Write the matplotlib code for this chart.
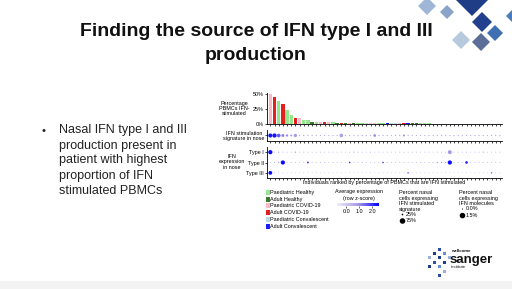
import numpy as np
import matplotlib
matplotlib.use('Agg')
import matplotlib.pyplot as plt
from matplotlib.colors import LinearSegmentedColormap, Normalize
from matplotlib.cm import ScalarMappable
from matplotlib.patches import Rectangle, Polygon

plt.rcParams['font.family'] = ['Liberation Sans', 'DejaVu Sans']

W, H = 512, 289

group_names = ['Paediatric Healthy', 'Adult Healthy', 'Paediatric COVID-19',
               'Adult COVID-19', 'Paediatric Convalescent', 'Adult Convalescent']
group_colors = ['#93e88c', '#3b7a2a', '#f7bac8', '#e3201c', '#b8dcea', '#1c1cff']

# cohort of each individual, ranked by % IFN-stimulated PBMCs
groups = [2, 3, 0, 3, 0, 0, 3, 2, 0, 0,
          1, 0, 2, 3, 2, 0, 1, 3, 1, 2,
          1, 0, 0, 4, 2, 2, 0, 0, 5, 4,
          4, 2, 3, 5, 1, 1, 0, 0, 0, 2,
          2, 3, 0, 0, 4, 1, 2, 0, 4, 5,
          2, 0, 1, 4, 2, 0]
pct_ifn = [50, 45, 39, 33.5, 23.5, 15, 9.5, 9.4, 6, 5.9,
           4, 3.5, 3.2, 3.2, 2.8, 2.8, 2.5, 2.5, 2.3, 2.2,
           2.0, 2.0, 1.9, 1.8, 1.7, 1.6, 1.5, 1.45, 1.45, 1.4,
           1.3, 1.3, 1.3, 1.25, 1.2, 1.1, 1.0, 1.0, 0.9, 0.8,
           0.8, 0.8, 0.7, 0.6, 0.3, 0.3, 0.2, 0.2, 0.2, 0.2,
           0.1, 0.1, 0.1, 0.1, 0.1, 0.1]

# IFN stimulation signature in nose: % cells and z-score
sig_pct = [70, 75, 55, 35, 20, 12, 45, 5, 5, 5,
           5, 5, 5, 5, 5, 5, 5, 55, 5, 5,
           5, 5, 5, 5, 5, 30, 5, 5, 5, 5,
           5, 5, 15, 5, 5, 5, 5, 5, 5, 5,
           5, 5, 5, 5, 5, 5, 5, 5, 5, 5,
           5, 5, 5, 5, 5, 5]
sig_z = [2.3, 2.3, 1.6, 1.2, 1.1, 1.0, 0.9, 0.6, 0.7, 0.6,
         0.5, 0.6, 0.5, 0.6, 0.5, 0.5, 0.6, 0.8, 0.5, 0.6,
         0.5, 0.5, 0.6, 0.5, 0.5, 1.0, 0.5, 0.6, 0.5, 0.5,
         0.6, 0.5, 1.0, 0.5, 0.5, 0.6, 0.5, 0.5, 0.6, 0.5,
         0.5, 0.6, 0.5, 0.5, 0.6, 0.5, 0.5, 0.6, 0.5, 0.5,
         0.6, 0.5, 0.5, 0.6, 0.5, 0.5]

# IFN expression in nose: % cells and z-score, Type I / II / III
type1_pct = [1.5, 0.05, 0.1, 0.05, 0.05, 0.05, 0.15, 0.05, 0.05, 0.05,
             0.05, 0.05, 0.05, 0.05, 0.05, 0.05, 0.05, 0.05, 0.05, 0.05,
             0.1, 0.05, 0.05, 0.05, 0.05, 0.05, 0.05, 0.05, 0.05, 0.05,
             0.05, 0.05, 0.05, 0.05, 0.05, 0.05, 0.05, 0.05, 0.05, 0.05,
             0.05, 0.05, 0.05, 1.3, 0.05, 0.05, 0.05, 0.05, 0.05, 0.05,
             0.05, 0.1, 0.05, 0.05, 0.05, 0.05]
type1_z = [2.4, 0.4, 0.6, 0.4, 0.4, 0.4, 0.7, 0.3, 0.4, 0.3,
           0.4, 0.3, 0.4, 0.3, 0.4, 0.3, 0.4, 0.3, 0.4, 0.3,
           0.6, 0.3, 0.4, 0.3, 0.4, 0.3, 0.4, 0.3, 0.4, 0.3,
           0.4, 0.3, 0.4, 0.3, 0.4, 0.3, 0.4, 0.3, 0.4, 0.3,
           0.4, 0.3, 0.4, 0.9, 0.4, 0.3, 0.4, 0.3, 0.4, 0.3,
           0.4, 0.6, 0.3, 0.4, 0.3, 0.4]
type2_pct = [0.05, 0.05, 0.1, 1.5, 0.05, 0.05, 0.05, 0.05, 0.05, 0.25,
             0.05, 0.05, 0.05, 0.05, 0.05, 0.05, 0.05, 0.05, 0.05, 0.2,
             0.05, 0.05, 0.05, 0.05, 0.05, 0.05, 0.05, 0.2, 0.05, 0.05,
             0.05, 0.05, 0.05, 0.05, 0.05, 0.05, 0.05, 0.05, 0.05, 0.05,
             0.1, 0.1, 0.1, 1.5, 0.05, 0.05, 0.05, 0.6, 0.05, 0.05,
             0.05, 0.05, 0.05, 0.05, 0.05, 0.05]
type2_z = [0.4, 0.6, 0.9, 2.4, 0.3, 0.3, 0.4, 0.3, 0.3, 2.0,
           0.3, 0.3, 0.4, 0.3, 0.3, 0.3, 0.4, 0.3, 0.3, 2.0,
           0.3, 0.3, 0.4, 0.3, 0.3, 0.3, 0.4, 1.8, 0.3, 0.3,
           0.4, 0.3, 0.3, 0.3, 0.4, 0.3, 0.3, 0.3, 0.4, 0.3,
           0.9, 1.0, 0.9, 2.4, 0.3, 0.3, 0.4, 2.1, 0.3, 0.3,
           0.4, 0.3, 0.3, 0.4, 0.3, 0.3]
type3_pct = [1.2, 0.02, 0.02, 0.02, 0.02, 0.02, 0.02, 0.02, 0.02, 0.02,
             0.02, 0.02, 0.02, 0.02, 0.02, 0.02, 0.02, 0.02, 0.02, 0.02,
             0.02, 0.02, 0.02, 0.02, 0.02, 0.02, 0.02, 0.02, 0.02, 0.02,
             0.02, 0.02, 0.02, 0.15, 0.02, 0.02, 0.02, 0.02, 0.02, 0.02,
             0.02, 0.02, 0.02, 0.02, 0.02, 0.02, 0.02, 0.02, 0.02, 0.02,
             0.02, 0.02, 0.02, 0.15, 0.02, 0.02]
type3_z = [2.4, 0.3, 0.3, 0.3, 0.3, 0.3, 0.3, 0.3, 0.3, 0.3,
           0.3, 0.3, 0.3, 0.3, 0.3, 0.3, 0.3, 0.3, 0.3, 0.3,
           0.3, 0.3, 0.3, 0.3, 0.3, 0.3, 0.3, 0.3, 0.3, 0.3,
           0.3, 0.3, 0.3, 1.8, 0.3, 0.3, 0.3, 0.3, 0.3, 0.3,
           0.3, 0.3, 0.3, 0.3, 0.3, 0.3, 0.3, 0.3, 0.3, 0.3,
           0.3, 0.3, 0.3, 1.5, 0.3, 0.3]
type_labels = ['Type I', 'Type II', 'Type III']

title_lines = ['Finding the source of IFN type I and III', 'production']
bullet_lines = ['Nasal IFN type I and III', 'production present in',
                'patient with highest', 'proportion of IFN', 'stimulated PBMCs']

cmap = LinearSegmentedColormap.from_list('bp', ['#f0edf9', '#a89ae6', '#0000ff'])
norm = Normalize(vmin=-0.7, vmax=2.5)
FS = 3.9


def px(l, t, r, b):
    return [l / W, 1 - b / H, (r - l) / W, (b - t) / H]


def style(ax):
    for s in ['top', 'right']:
        ax.spines[s].set_visible(False)
    for s in ['left', 'bottom']:
        ax.spines[s].set_linewidth(0.6)
    ax.tick_params(length=1.5, width=0.5, pad=0.8, labelsize=FS)
    ax.set_xlim(-0.8, len(groups) - 0.5)
    ax.set_xticks(np.arange(len(groups)))
    ax.set_xticklabels([])


fig = plt.figure(figsize=(W / 100, H / 100), dpi=100)

# slide background and text
bg = fig.add_axes([0, 0, 1, 1])
bg.set_xlim(0, W)
bg.set_ylim(H, 0)
bg.axis('off')
bg.add_patch(Rectangle((0, 281), W, 8, color='#f3f3f3', lw=0))
for i, line in enumerate(title_lines):
    bg.text(256, 32 + 23 * i, line, ha='center', va='center',
            fontsize=14, fontweight='bold', color='#111111')
bg.text(43, 130.5, '\u2022', ha='center', va='center', fontsize=8, color='#222222')
for i, line in enumerate(bullet_lines):
    bg.text(59, 130.5 + 15 * i, line, ha='left', va='center',
            fontsize=9, color='#222222')

# top right decoration
diamonds = [((472, -2), 18, '#1f3d86'), ((482, 22), 10, '#23408e'),
            ((495, 33), 8, '#3e6fb3'), ((461, 40), 9, '#b7c9dc'),
            ((481, 42), 9, '#5a6e98'), ((427, 6), 9, '#9fb6d6'),
            ((447, 12), 7, '#8aa3c8'), ((512, 16), 6, '#4d7dbd')]
for (cx, cy), r, c in diamonds:
    bg.add_patch(Polygon([(cx, cy - r), (cx + r, cy), (cx, cy + r), (cx - r, cy)],
                         closed=True, color=c, lw=0))

# sanger logo
logo_sq = [(428, 256, '#9ab0d8'), (433, 252, '#1f3d86'), (438, 248, '#2a4ea0'),
           (438, 256, '#1f3d86'), (443, 252, '#6a8fd0'), (433, 261, '#2a4ea0'),
           (428, 265, '#1f3d86'), (438, 265, '#6a8fd0'), (443, 261, '#1f3d86'),
           (443, 270, '#9ab0d8'), (438, 274, '#2a4ea0'), (448, 256, '#9ab0d8')]
for x, y, c in logo_sq:
    bg.add_patch(Rectangle((x, y), 3, 3, color=c, lw=0))
bg.text(451, 251.5, 'wellcome', fontsize=3.2, fontweight='bold', va='center', color='#111111')
bg.text(450, 259.5, 'sanger', fontsize=9.5, fontweight='bold', va='center', color='#111111')
bg.text(451, 267.5, 'institute', fontsize=3.2, va='center', color='#111111')

x = np.arange(len(groups))

# bar panel
ax1 = fig.add_axes(px(267, 93, 502, 124))
ax1.bar(x, pct_ifn, width=0.8, color=[group_colors[g] for g in groups])
ax1.set_ylim(0, 52)
ax1.set_yticks([0, 25, 50])
ax1.set_yticklabels(['0%', '25%', '50%'])
style(ax1)
fig.text(234 / W, 1 - 108.5 / H, 'Percentage\nPBMCs IFN-\nstimulated', ha='center', va='center',
         fontsize=FS, linespacing=1.05)


def sizes(v, vmax, smax=9.0):
    return 0.25 + smax * np.asarray(v) / vmax


# signature panel
ax2 = fig.add_axes(px(267, 130, 502, 141))
ax2.scatter(x, np.zeros(len(x)), s=sizes(sig_pct, 75), c=sig_z, cmap=cmap, norm=norm, lw=0)
ax2.set_ylim(-0.6, 0.6)
ax2.set_yticks([0])
ax2.set_yticklabels([])
style(ax2)
fig.text(244 / W, 1 - 136 / H, 'IFN stimulation\nsignature in nose', ha='center', va='center',
         fontsize=FS, linespacing=1.05)

# IFN expression panel
ax3 = fig.add_axes(px(267, 147, 502, 178))
for row, (p, z) in enumerate([(type1_pct, type1_z), (type2_pct, type2_z), (type3_pct, type3_z)]):
    ax3.scatter(x, np.full(len(x), row), s=sizes(p, 1.5), c=z, cmap=cmap, norm=norm, lw=0)
ax3.set_ylim(2.5, -0.5)
ax3.set_yticks([0, 1, 2])
ax3.set_yticklabels(type_labels)
style(ax3)
fig.text(232 / W, 1 - 162 / H, 'IFN\nexpression\nin nose', ha='center', va='center',
         fontsize=FS, linespacing=1.05)
fig.text(384 / W, 1 - 182.5 / H, 'Individuals ranked by percentage of PBMCs that are IFN stimulated',
         ha='center', va='center', fontsize=FS)

# cohort legend
for i, (name, c) in enumerate(zip(group_names, group_colors)):
    yy = 192.3 + 6.8 * i
    bg.add_patch(Rectangle((265.5, yy - 2.5), 4.5, 5, color=c, lw=0))
    bg.text(270.5, yy, name, fontsize=FS, va='center')

# colour scale legend
bg.text(359, 192, 'Average expression', fontsize=FS, ha='center', va='center')
bg.text(359, 198.3, '(row z-score)', fontsize=FS, ha='center', va='center')
cax = fig.add_axes(px(337, 202.5, 379, 206))
cb = fig.colorbar(ScalarMappable(norm=norm, cmap=cmap), cax=cax, orientation='horizontal')
cb.set_ticks([0, 1, 2])
cb.set_ticklabels(['0.0', '1.0', '2.0'])
cb.outline.set_visible(False)
cax.tick_params(length=1.2, width=0.4, pad=0.8, labelsize=FS)

# size legends
for i, line in enumerate(['Percent nasal', 'cells expressing', 'IFN stimulated', 'signature']):
    bg.text(399, 192.3 + 5.8 * i, line, fontsize=FS, va='center')
bg.scatter([402.5, 402.5], [214.5, 221], s=[1.5, 16], color='black', lw=0)
bg.text(405.5, 214.5, '25%', fontsize=FS, va='center')
bg.text(405.5, 221, '75%', fontsize=FS, va='center')
for i, line in enumerate(['Percent nasal', 'cells expressing', 'IFN molecules']):
    bg.text(459, 192.3 + 5.8 * i, line, fontsize=FS, va='center')
bg.scatter([462.5, 462.5], [209, 215.6], s=[0.6, 16], color='black', lw=0)
bg.text(466, 209, '0.0%', fontsize=FS, va='center')
bg.text(466, 215.6, '1.5%', fontsize=FS, va='center')

fig.savefig('out.png', dpi=100)
